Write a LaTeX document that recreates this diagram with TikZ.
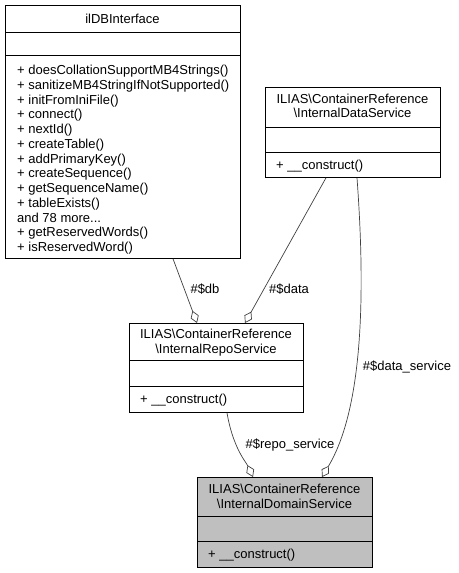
\documentclass[tikz,border=0pt]{standalone}
\usepackage{fontspec}
\setmainfont{Liberation Sans}
\usetikzlibrary{arrows.meta,calc}
\begin{document}
\begin{tikzpicture}[x=1pt,y=-1pt,
  classbox/.style={draw=black,line width=0.8pt,inner sep=0pt,anchor=north west},
  sepline/.style={draw=black,line width=0.8pt},
  txt/.style={inner sep=0pt,font=\fontsize{13}{14.75}\selectfont},
  mline/.style={txt,anchor=base west},
  edge/.style={draw=black!75,line width=0.7pt,-{Diamond[open,length=13pt,width=8.5pt,line width=0.7pt]}},
  elabel/.style={txt,anchor=base}]
\useasboundingbox (0,0) rectangle (458,573);
% ilDBInterface
\node[classbox,minimum width=235pt,minimum height=253pt] (db) at (5,5) {};
\draw[sepline] (5,32) -- (240,32);
\draw[sepline] (5,55) -- (240,55);
\node[txt,anchor=base] (dbt) at (122.5,23) {ilDBInterface};
\node[mline] (dbm1) at (17,74.5) {+ doesCollationSupportMB4Strings()};
\node[mline] (dbm2) at (17,89.25) {+ sanitizeMB4StringIfNotSupported()};
\node[mline] (dbm3) at (17,104) {+ initFromIniFile()};
\node[mline] (dbm4) at (17,118.75) {+ connect()};
\node[mline] (dbm5) at (17,133.5) {+ nextId()};
\node[mline] (dbm6) at (17,148.25) {+ createTable()};
\node[mline] (dbm7) at (17,163) {+ addPrimaryKey()};
\node[mline] (dbm8) at (17,177.75) {+ createSequence()};
\node[mline] (dbm9) at (17,192.5) {+ getSequenceName()};
\node[mline] (dbm10) at (17,207.25) {+ tableExists()};
\node[mline] (dbm11) at (17,222) {and 78 more...};
\node[mline] (dbm12) at (17,236.75) {+ getReservedWords()};
\node[mline] (dbm13) at (17,251.5) {+ isReservedWord()};
% InternalDataService
\node[classbox,minimum width=175pt,minimum height=90pt] (data) at (265,87) {};
\draw[sepline] (265,127) -- (440,127);
\draw[sepline] (265,152) -- (440,152);
\node[txt,anchor=base] (datat1) at (352.5,103) {ILIAS\textbackslash ContainerReference};
\node[txt,anchor=base] (datat2) at (352.5,117.75) {\textbackslash InternalDataService};
\node[mline] (datam) at (276,169.5) {+ \_\_construct()};
% InternalRepoService
\node[classbox,minimum width=174pt,minimum height=89pt] (repo) at (129,323) {};
\draw[sepline] (129,360) -- (303,360);
\draw[sepline] (129,386) -- (303,386);
\node[txt,anchor=base] (repot1) at (216,338.5) {ILIAS\textbackslash ContainerReference};
\node[txt,anchor=base] (repot2) at (216,353.25) {\textbackslash InternalRepoService};
\node[mline] (repom) at (140,403.5) {+ \_\_construct()};
% InternalDomainService
\node[classbox,fill={rgb,255:red,191;green,191;blue,191},minimum width=175pt,minimum height=90pt] (dom) at (197,477) {};
\draw[sepline] (197,516) -- (372,516);
\draw[sepline] (197,541) -- (372,541);
\node[txt,anchor=base] (domt1) at (284.5,493.5) {ILIAS\textbackslash ContainerReference};
\node[txt,anchor=base] (domt2) at (284.5,508.25) {\textbackslash InternalDomainService};
\node[mline] (domm) at (208,558.5) {+ \_\_construct()};
% connectors
\draw[edge] ($(db.south west)+(168,0)$) -- ($(repo.north west)+(68,0)$);
\draw[edge] ($(data.south west)+(61,0)$) -- ($(repo.north west)+(116,0)$);
\draw[edge] ($(data.south west)+(92,0)$) .. controls (366,300) and (362,410) .. ($(dom.north west)+(125,0)$);
\draw[edge] ($(repo.south west)+(98,0)$) .. controls (233,448) and (246,462) .. ($(dom.north west)+(56,0)$);
% labels
\node[elabel] (ldb) at (205,293.5) {\#\$db};
\node[elabel] (ldata) at (289,293.5) {\#\$data};
\node[elabel] (lds) at (407,370.5) {\#\$data\_service};
\node[elabel] (lrs) at (290,448.5) {\#\$repo\_service};
\end{tikzpicture}
\end{document}
